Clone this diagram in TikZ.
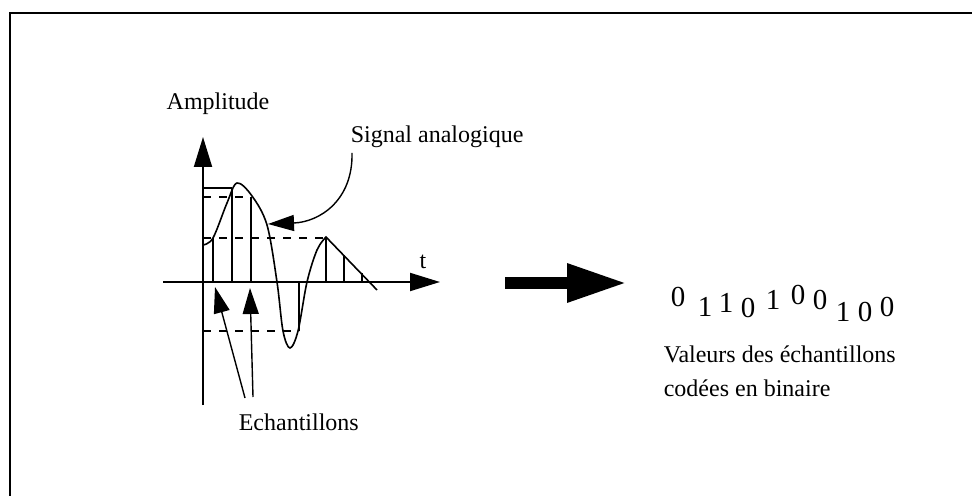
\documentclass[tikz,border=0pt]{standalone}
\usepackage{fontspec}
\setmainfont{Liberation Serif}
\usetikzlibrary{arrows.meta}

\begin{document}
\begin{tikzpicture}[x=0.5pt, y=-0.5pt, line width=0.8pt,
    lbl/.style={font=\fontsize{12}{14}\selectfont, inner sep=0pt},
    bit/.style={font=\fontsize{14.5}{16}\selectfont, inner sep=0pt},
    axe/.style={line width=1pt, -{Triangle[length=15pt,width=9pt]}},
    ptr/.style={line width=0.7pt, -{Triangle[length=13pt,width=8pt]}},
    niveau/.style={line width=0.6pt, dash pattern=on 4pt off 4pt}]
  \useasboundingbox (0,0) rectangle (972,496);
  % cadre
  \draw[line width=1pt] (10,496) -- (10,13) -- (972,13);

  % axes
  \coordinate (o) at (203,282);
  \draw[axe] (203,405) -- (203,137) coordinate (ytip);
  \draw[axe] (163,282) -- (440,282) coordinate (xtip);
  \node[lbl] (amp) at (218,104) {Amplitude};
  \node[lbl] (t) at (423,262) {t};

  % niveaux
  \draw[niveau] (203,238) -- (326,238);
  \draw[niveau] (203,197) -- (251,197);
  \draw[niveau] (203,331) -- (299,331);
  \draw[line width=0.8pt] (203,188) -- (232,188);

  % echantillons
  \foreach \x/\y in {213/238, 232/188, 251/197, 299/331, 326/237, 344/255, 362/273}
    \draw (\x,282) -- (\x,\y);

  % signal
  \draw plot[smooth, tension=0.55] coordinates {(203,245) (213,238) (227,203)
    (237,183) (252,196) (267,225) (277,282) (283,331) (290,348) (298,331)
    (307,282) (317,250) (326,237)} -- (377,290);

  \node[lbl, anchor=west] (sig) at (350,137) {Signal analogique};
  \coordinate (sigbas) at (352,153);
  \coordinate (sigpt) at (268,224);
  \draw[ptr] (sigbas) .. controls (353,200) and (320,222) .. (sigpt);

  \node[lbl, anchor=west] (ech) at (238,422) {Echantillons};
  \coordinate (e1) at (245,398);
  \coordinate (e2) at (253,397);
  \coordinate (p1) at (215,287);
  \coordinate (p2) at (250,288);
  \draw[ptr] (e1) -- (p1);
  \draw[ptr] (e2) -- (p2);

  % conversion
  \coordinate (fa) at (505,283);
  \coordinate (fb) at (627,283);
  \draw[line width=6pt, -{Triangle[length=30pt,width=18pt]}] (fa) -- (fb);

  \foreach \x/\y/\b [count=\i] in {678/297/0, 705/307/1, 726/303/1, 748/308/0,
      773/300/1, 798/295/0, 820/300/0, 843/312/1, 865/312/0, 887/307/0}
    \node[bit] (b\i) at (\x,\y) {\b};

  \node[lbl, anchor=west, align=left] (val) at (663,371)
    {Valeurs des échantillons\\[3pt]codées en binaire};
\end{tikzpicture}
\end{document}
